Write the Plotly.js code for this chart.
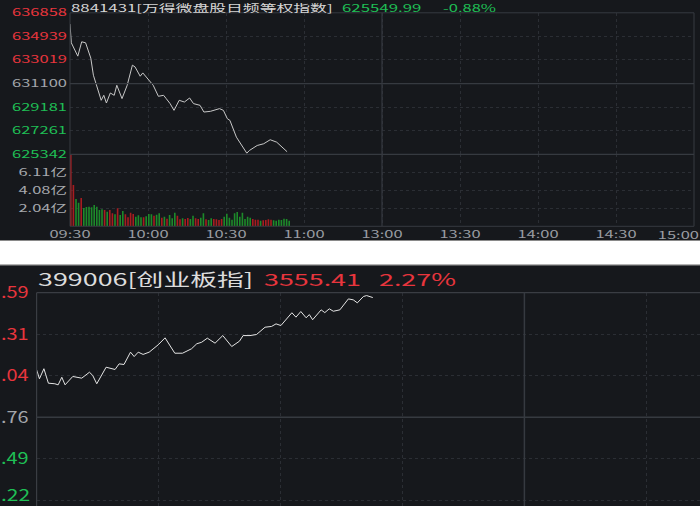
<!DOCTYPE html>
<html><head><meta charset="utf-8">
<script src="https://cdn.plot.ly/plotly-3.0.1.min.js"></script>
<style>html,body{margin:0;padding:0;background:#16181c;overflow:hidden}#chart{width:700px;height:506px}</style>
</head><body><div id="chart"></div>
<script>
// ---------- top chart data: 8841431 ----------
const topTitle = '8841431[万得微盘股日频等权指数]';
const topLast = '625549.99';
const topChange = '-0.88%';
const topPrevClose = 631100;
const topMinutes = [0,0.5,3,4.5,6,8,9,12,13,14,15.5,17,18,20,22,24,25,27,28,30,32,34,36,37,38.5,40,42,44,46,47.5,50,51.5,54,57.5,59,60.5,61.5,64,68,69,72,74.5,77,79.5,82,83.5];
const topPrices = [635943,634416,633330,634497,634416,633166,631778,629736,630144,629516,630332,630144,630961,629875,630961,632595,632456,631696,631966,631508,630961,630063,630144,629875,629467,628919,629736,629597,629924,629467,629328,628781,628838,629058,628919,628242,628103,626739,625432,625653,626061,626200,626527,626330,625791,625550];
const topVolMinutes = [0,1,2,3,4,5,6,7,8,9,10,11,12,13,14,15,16,17,18,19,20,21,22,23,24,25,26,27,28,29,30,31,32,33,34,35,36,37,38,39,40,41,42,43,44,45,46,47,48,49,50,51,52,53,54,55,56,57,58,59,60,61,62,63,64,65,66,67,68,69,70,71,72,73,74,75,76,77,78,79,80,81,82,83,84];
const topVolumes = [8.11,4.68,3.09,2.67,3.21,2.07,2.19,2.22,2.15,2.41,2.22,1.85,1.93,1.85,1.65,1.85,1.47,1.36,2.04,1.28,1.73,1.36,1.02,1.54,1.39,1.09,1.25,1.02,1.02,1.13,1.39,1.36,1.20,1.31,1.47,0.97,1.09,0.86,1.28,0.91,1.54,1.20,0.79,0.91,0.83,0.94,0.83,1.20,0.91,0.83,0.97,1.47,0.79,0.71,0.91,0.83,0.79,0.71,0.83,1.09,1.43,0.97,0.75,1.47,1.62,1.09,1.54,0.83,1.09,0.97,0.83,0.75,0.75,0.63,0.68,0.71,0.79,0.75,0.68,0.63,0.75,0.71,0.86,0.83,0.63];
const topVolUp = [1,1,0,0,1,0,0,0,0,0, 0,0,0,1,0,1,1,0,1,0, 0,1,1,1,1,0,0,0,1,0, 0,0,1,0,0,1,0,1,0,0, 0,1,1,0,1,1,0,0,1,1, 0,0,1,0,0,1,1,1,1,0, 0,0,0,0,0,0,0,0,0,0, 1,1,1,0,1,1,1,1,0,0, 0,0,0,0,0];
const topPriceTicks = [625342,627261,629181,631100,633019,634939,636858];
const topVolTicks = [2.04,4.08,6.11];
const topVolTickText = ['2.04亿','4.08亿','6.11亿'];
const timeTicks = [0,30,60,90,120,150,180,210,240];
const timeTickText = ['09:30','10:00','10:30','11:00','13:00','13:30','14:00','14:30','15:00'];

// ---------- bottom chart data: 399006 ----------
const botTitle = '399006[创业板指]';
const botLast = '3555.41';
const botChange = '2.27%';
const botPrevClose = 3476.76;
const botMinutes = [0,0.7,1.8,2.9,4.5,5.3,6.2,7,8.9,11.1,13,13.8,14.8,17.1,19.3,20.3,21.5,23.1,24,25,26.2,27.7,29.9,31.6,34,35.9,38.1,39.4,40.6,42,43.9,45.8,48,49.9,50.8,52.5,54.1,56.2,57.8,58.9,60.1,62.8,63.8,65,66.3,67.1,67.9,70,70.9,72,73,74.6,76.7,77.9,78.9,80.4,81.2,82.7];
const botPrices = [3507.9,3502.0,3508.6,3499.1,3498.7,3498.0,3503.0,3498.0,3503.5,3502.4,3506.3,3504.2,3498.7,3509.6,3508.1,3511.8,3511.4,3519.5,3516.6,3519.5,3518.0,3519.5,3524.3,3528.9,3518.8,3518.8,3521.7,3525.0,3526.0,3528.7,3525.4,3530.4,3523.2,3526.7,3530.4,3530.4,3531.1,3535.9,3536.4,3538.1,3537.0,3545.4,3542.5,3546.2,3542.1,3544.2,3540.8,3547.3,3545.5,3548.0,3546.4,3547.3,3554.5,3553.9,3551.9,3556.1,3556.7,3555.4];
const botPriceTicks = [3422.22,3449.49,3476.76,3504.04,3531.31,3558.59];
// visible (left-cropped) tick labels of the screenshot
const botTickText = ['.22','.49','.76','.04','.31','.59'];

// ---------- styling ----------
const W = 700, H = 506;
const px = x => x / W, py = y => 1 - y / H;
const BG = '#16181c', GRID = '#2b2e34', SOLID = '#363a40';
const RED = '#e8353d', GREEN = '#1fbf55', GRAY = '#a3a6ab';
const BAR_RED = '#a81c20', BAR_GREEN = '#1d8a2a';
const FONT = '"Noto Sans CJK SC", "Noto Sans", sans-serif';
const TOP_STRETCH = 1.65, BOT_STRETCH = 1.58;

function tickColor(v, ref) { return v > ref + 1e-9 ? RED : (v < ref - 1e-9 ? GREEN : GRAY); }
function span(text, color) { return '<span style="color:' + color + '">' + text + '</span>'; }

const data = [
  { type: 'scatter', mode: 'lines', x: topMinutes, y: topPrices, xaxis: 'x', yaxis: 'y',
    line: { color: '#c8c8c8', width: 1 }, hoverinfo: 'skip' },
  { type: 'bar', x: topVolMinutes, y: topVolumes, xaxis: 'x', yaxis: 'y2',
    width: 0.62, offset: 0,
    marker: { color: topVolUp.map(u => u ? BAR_RED : BAR_GREEN), line: { width: 0 } }, hoverinfo: 'skip' },
  { type: 'scatter', mode: 'lines', x: botMinutes, y: botPrices, xaxis: 'x3', yaxis: 'y3',
    line: { color: '#e4e4e4', width: 1 }, hoverinfo: 'skip' }
];

const axBase = { showgrid: true, gridcolor: GRID, griddash: 'dot', gridwidth: 1, zeroline: false,
  showline: false, ticks: '', automargin: false, fixedrange: true };

const lastTime = timeTickText.length - 1;
const lowBot = 0;

const layout = {
  width: W, height: H, margin: { l: 0, r: 0, t: 0, b: 0 },
  paper_bgcolor: BG, plot_bgcolor: 'rgba(0,0,0,0)', showlegend: false,
  font: { family: FONT },
  xaxis: Object.assign({}, axBase, { domain: [px(70), px(694)], range: [0, 240], anchor: 'y2',
    tickvals: timeTicks, ticktext: timeTickText.map((t, i) => i === lastTime ? '' : t), ticklabelstandoff: 1,
    tickfont: { family: FONT, size: 10, color: '#9a9da3' } }),
  yaxis: Object.assign({}, axBase, { domain: [py(154.3), py(12.8)], range: [625342, 636858], anchor: 'x',
    tickvals: topPriceTicks, ticktext: topPriceTicks.map(v => span(String(v), tickColor(v, topPrevClose))),
    ticklabelstandoff: 2, tickfont: { family: FONT, size: 10, color: GRAY } }),
  yaxis2: Object.assign({}, axBase, { domain: [py(226.3), py(154.3)], range: [0, 8.16], anchor: 'x',
    tickvals: topVolTicks, ticktext: topVolTickText,
    ticklabelstandoff: 2, tickfont: { family: FONT, size: 10, color: '#a6a9ae' } }),
  xaxis3: Object.assign({}, axBase, { domain: [px(36.6), 1], range: [0, 163.2], anchor: 'y3',
    tickvals: timeTicks, showticklabels: false }),
  yaxis3: Object.assign({}, axBase, { domain: [0, py(292.7)], range: [3418.34, 3558.59], anchor: 'x3',
    tickvals: botPriceTicks,
    ticktext: botPriceTicks.map((v, i) => i === lowBot ? '' : span(botTickText[i], tickColor(v, botPrevClose))),
    ticklabelstandoff: 7, tickfont: { family: FONT, size: 16, color: GRAY } }),
  shapes: [
    { type: 'rect', xref: 'paper', yref: 'paper', x0: px(70), x1: px(694), y0: py(226.3), y1: py(12.8), line: { color: SOLID, width: 1 } },
    { type: 'line', xref: 'paper', yref: 'paper', x0: px(70), x1: px(694), y0: py(154.3), y1: py(154.3), line: { color: SOLID, width: 1.2 } },
    { type: 'line', xref: 'paper', yref: 'y', x0: px(70), x1: px(694), y0: topPrevClose, y1: topPrevClose, line: { color: SOLID, width: 1.2 } },
    { type: 'line', xref: 'x', yref: 'paper', x0: 120, x1: 120, y0: py(226.3), y1: py(12.8), line: { color: SOLID, width: 1.2 } },
    { type: 'rect', xref: 'paper', yref: 'paper', x0: 0, x1: 1, y0: py(265), y1: py(240), fillcolor: '#ffffff', line: { width: 0 } },
    { type: 'line', xref: 'paper', yref: 'paper', x0: 0, x1: 1, y0: py(240.5), y1: py(240.5), line: { color: '#8a8a8a', width: 1 } },
    { type: 'line', xref: 'paper', yref: 'paper', x0: 0, x1: 1, y0: py(264.8), y1: py(264.8), line: { color: '#9a9a9a', width: 1.2 } },
    { type: 'line', xref: 'paper', yref: 'paper', x0: px(36.6), x1: 1, y0: py(292.7), y1: py(292.7), line: { color: '#3a3d43', width: 1.2 } },
    { type: 'line', xref: 'paper', yref: 'paper', x0: px(36.6), x1: px(36.6), y0: 0, y1: py(292.7), line: { color: '#3a3d43', width: 1.2 } },
    { type: 'line', xref: 'paper', yref: 'y3', x0: px(36.6), x1: 1, y0: botPrevClose, y1: botPrevClose, line: { color: SOLID, width: 1.5 } },
    { type: 'line', xref: 'x3', yref: 'paper', x0: 120, x1: 120, y0: 0, y1: py(292.7), line: { color: SOLID, width: 1.5 } }
  ],
  annotations: [
    { text: topTitle, x: px(71), y: py(7), color: '#d6d6d6', size: 10.2, xa: 'left', ya: 'middle' },
    { text: topLast, x: px(341.7), y: py(7), color: GREEN, size: 10.2, xa: 'left', ya: 'middle' },
    { text: topChange, x: px(442.7), y: py(7), color: GREEN, size: 10, xa: 'left', ya: 'middle' },
    { text: botTitle, x: px(38), y: py(278.5), color: '#dcdcdc', size: 17, xa: 'left', ya: 'middle' },
    { text: botLast, x: px(264.3), y: py(278.5), color: RED, size: 17, xa: 'left', ya: 'middle' },
    { text: botChange, x: px(379), y: py(278.5), color: RED, size: 17, xa: 'left', ya: 'middle' },
    { text: timeTickText[lastTime], x: px(699), y: py(234), color: '#9a9da3', size: 10, xa: 'right', ya: 'middle' },
    { text: botTickText[lowBot], x: px(29.6), y: 0, color: tickColor(botPriceTicks[lowBot], botPrevClose), size: 16, xa: 'right', ya: 'bottom' }
  ].map(a => ({ text: a.text, x: a.x, y: a.y, xref: 'paper', yref: 'paper', xanchor: a.xa, yanchor: a.ya,
    align: a.xa, showarrow: false, borderpad: 0, borderwidth: 0,
    font: { family: FONT, size: a.size, color: a.color } }))
};

Plotly.newPlot('chart', data, layout, { staticPlot: true, displayModeBar: false }).then(gd => {
  // the reference screenshots are horizontally stretched: widen every text accordingly,
  // but never past the left edge of the picture
  gd.querySelectorAll('text').forEach(t => {
    const w = t.getComputedTextLength();
    if (!w) return;
    const r0 = t.getBoundingClientRect();
    const f = (r0.top + r0.bottom) / 2 < 252 ? TOP_STRETCH : BOT_STRETCH;
    let len = w * f;
    t.setAttribute('textLength', len.toFixed(2));
    t.setAttribute('lengthAdjust', 'spacingAndGlyphs');
    const r = t.getBoundingClientRect();
    if (r.left < 1) {
      len = Math.max(w, len - (1 - r.left));
      t.setAttribute('textLength', len.toFixed(2));
    }
  });
});
</script>
</body></html>
